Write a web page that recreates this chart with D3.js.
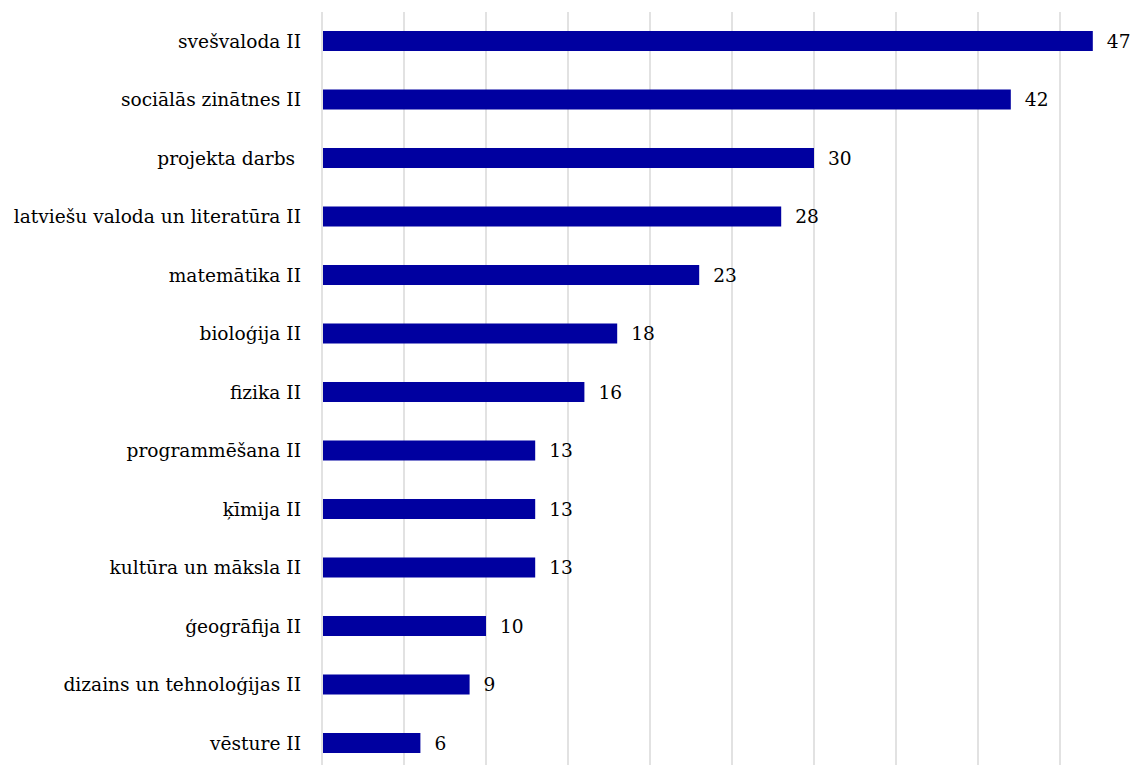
<!DOCTYPE html>
<html><head><meta charset="utf-8">
<script src="https://cdn.jsdelivr.net/npm/d3@7"></script>
<style>body{margin:0;background:#fff}svg{display:block}
svg text{font-family:"DejaVu Serif",serif;font-size:18.6px;fill:#000}</style>
</head><body>
<svg id="c" width="1134" height="765"></svg>
<script>
const categories = ["svešvaloda II","sociālās zinātnes II","projekta darbs ","latviešu valoda un literatūra II","matemātika II","bioloģija II","fizika II","programmēšana II","ķīmija II","kultūra un māksla II","ģeogrāfija II","dizains un tehnoloģijas II","vēsture II"];
const values = [47,42,30,28,23,18,16,13,13,13,10,9,6];
const gridTicks = [0,5,10,15,20,25,30,35,40,45];

const svg = d3.select("#c");
const x = d3.scaleLinear().domain([0,50]).range([322,1142]);
const y = d3.scaleBand().domain(categories).range([11.75,772.25]).paddingInner(0.658).paddingOuter(0.329);

svg.append("g").selectAll("line").data(gridTicks).join("line")
  .attr("x1",d=>x(d)).attr("x2",d=>x(d)).attr("y1",12).attr("y2",765)
  .attr("stroke","#d9d9d9").attr("stroke-width",1.5);

svg.append("g").selectAll("rect").data(values).join("rect")
  .attr("x",x(0)+1).attr("y",(d,i)=>y(categories[i]))
  .attr("width",d=>x(d)-x(0)-1).attr("height",y.bandwidth())
  .attr("fill","#0000a0");

svg.append("g").selectAll("text").data(values).join("text")
  .attr("x",d=>x(d)+14).attr("y",(d,i)=>y(categories[i])+y.bandwidth()/2)
  .attr("dy","0.35em").text(d=>d);

svg.append("g").selectAll("text").data(categories).join("text")
  .attr("x",301).attr("y",d=>y(d)+y.bandwidth()/2).attr("dy","0.35em")
  .attr("text-anchor","end").style("white-space","pre").text(d=>d);
</script>
</body></html>
